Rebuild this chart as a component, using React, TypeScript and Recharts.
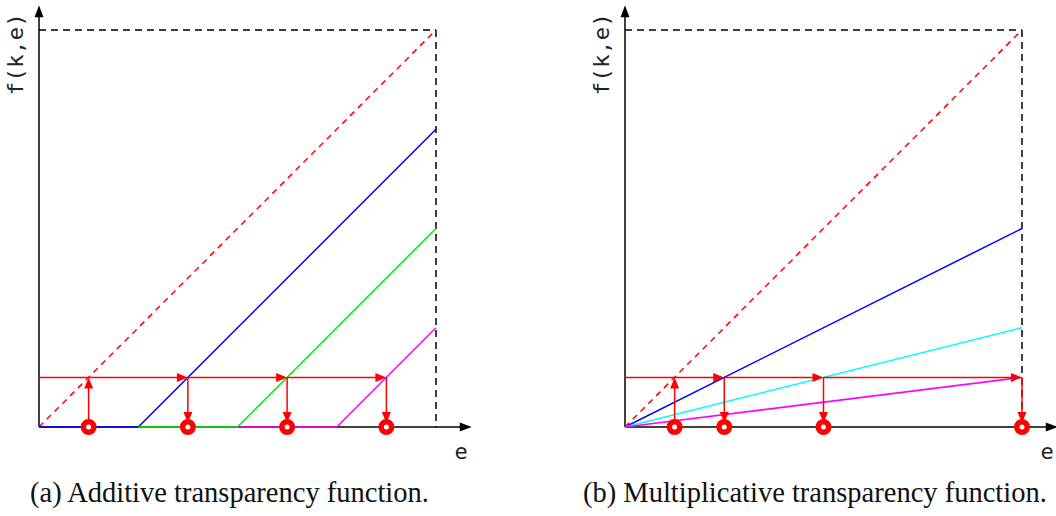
import React from "react"
import { ComposedChart, Line, XAxis, YAxis, ReferenceLine, ReferenceDot } from "recharts"

// additive transparency: f(k,e) = max(0, e - k)
const addE = [0, 1, 2, 3, 4]
const addIdentity = [0, 1, 2, 3, 4]
const addK1 = [0, 0, 1, 2, 3]
const addK2 = [null, 0, 0, 1, 2]
const addK3 = [null, null, 0, 0, 1]
const addHits = [0.5, 1.5, 2.5, 3.5]

// multiplicative transparency: f(k,e) = e / k
const mulE = [0, 4]
const mulIdentity = [0, 4]
const mulK1 = [0, 2]
const mulK2 = [0, 1]
const mulK3 = [0, 0.5]
const mulHits = [0.5, 1, 2, 4]

const level = 0.5
const eMax = 4
const xLabel = "e"
const yLabel = "f(k,e)"
const captionA = "(a) Additive transparency function."
const captionB = "(b) Multiplicative transparency function."

const UNIT = 99.25
const X_END = 4.36
const Y_END = 4.25
const ORIGIN_Y = 427
const CHART_W = 540
const CHART_H = 516
const RED = "#ff0000"

function ArrowLine(props: any) {
    const { x1, y1, x2, y2, color, width = 1.5, head = 0, half = 4, trim = 0, dash } = props
    const dx = x2 - x1
    const dy = y2 - y1
    const len = Math.hypot(dx, dy) || 1
    const ux = dx / len
    const uy = dy / len
    const tx = x2 - ux * trim
    const ty = y2 - uy * trim
    const bx = tx - ux * head
    const by = ty - uy * head
    return (
        <g>
            <line x1={x1} y1={y1} x2={head ? bx + ux : tx} y2={head ? by + uy : ty}
                stroke={color} strokeWidth={width} strokeDasharray={dash} />
            {head > 0 && (
                <polygon
                    points={`${tx},${ty} ${bx - uy * half},${by + ux * half} ${bx + uy * half},${by - ux * half}`}
                    fill={color}
                />
            )}
        </g>
    )
}

interface Series {
    key: string
    color: string
    values: (number | null)[]
}

interface PanelProps {
    es: number[]
    identity: number[]
    series: Series[]
    hits: number[]
    left: number
}

function Panel(props: PanelProps) {
    const { es, identity, series, hits, left } = props
    const rows = es.map((e, i) => {
        const row: any = { e, identity: identity[i] }
        series.forEach(s => { row[s.key] = s.values[i] })
        return row
    })
    const plotW = X_END * UNIT
    const plotH = Y_END * UNIT
    const margin = {
        left: 39,
        top: ORIGIN_Y - plotH,
        right: CHART_W - 39 - plotW,
        bottom: CHART_H - ORIGIN_Y,
    }
    const monoStyle: React.CSSProperties = {
        position: "absolute", fontFamily: "'DejaVu Sans Mono', monospace", fontSize: 22,
        color: "#222", whiteSpace: "nowrap", lineHeight: 1,
    }
    return (
        <div style={{ position: "absolute", left, top: 0 }}>
            <ComposedChart width={CHART_W} height={CHART_H} data={rows} margin={margin}>
                <XAxis dataKey="e" type="number" domain={[0, X_END]} hide />
                <YAxis type="number" domain={[0, Y_END]} hide />

                {/* axes */}
                <ReferenceLine segment={[{ x: 0, y: 0 }, { x: X_END, y: 0 }]} ifOverflow="visible"
                    shape={(p: any) => <ArrowLine {...p} color="#000" head={12} half={4.5} />} />
                <ReferenceLine segment={[{ x: 0, y: 0 }, { x: 0, y: Y_END }]} ifOverflow="visible"
                    shape={(p: any) => <ArrowLine {...p} color="#000" head={12} half={4.5} />} />

                {/* dashed bounding box */}
                <ReferenceLine segment={[{ x: 0, y: eMax }, { x: eMax, y: eMax }]} ifOverflow="visible"
                    shape={(p: any) => <ArrowLine {...p} color="#000" dash="7 5" />} />
                <ReferenceLine segment={[{ x: eMax, y: eMax }, { x: eMax, y: 0 }]} ifOverflow="visible"
                    shape={(p: any) => <ArrowLine {...p} color="#000" dash="7 5" />} />

                <Line dataKey="identity" type="linear" stroke={RED} strokeWidth={1.5} strokeDasharray="6 5"
                    dot={false} isAnimationActive={false} />
                {series.map(s => (
                    <Line key={s.key} dataKey={s.key} type="linear" stroke={s.color} strokeWidth={1.5}
                        dot={false} isAnimationActive={false} />
                ))}

                {/* threshold line with arrows to each crossing */}
                <ReferenceLine segment={[{ x: 0, y: level }, { x: hits[0], y: level }]} ifOverflow="visible"
                    shape={(p: any) => <ArrowLine {...p} color={RED} />} />
                {hits.slice(1).map((h, i) => (
                    <ReferenceLine key={`h${h}`} segment={[{ x: hits[i], y: level }, { x: h, y: level }]}
                        ifOverflow="visible"
                        shape={(p: any) => <ArrowLine {...p} color={RED} head={11} half={4.5} />} />
                ))}
                <ReferenceLine segment={[{ x: hits[0], y: 0 }, { x: hits[0], y: level }]} ifOverflow="visible"
                    shape={(p: any) => <ArrowLine {...p} color={RED} head={11} half={4.5} />} />

                {hits.map(h => (
                    <ReferenceDot key={`d${h}`} x={h} y={0} r={5.25} fill="#fff" stroke={RED}
                        strokeWidth={5.5} ifOverflow="visible" />
                ))}

                {hits.slice(1).map(h => (
                    <ReferenceLine key={`v${h}`} segment={[{ x: h, y: level }, { x: h, y: 0 }]}
                        ifOverflow="visible"
                        shape={(p: any) => <ArrowLine {...p} color={RED} head={11} half={4.5} trim={4} />} />
                ))}
            </ComposedChart>
            <div style={{ ...monoStyle, left: 461, top: 452, transform: "translate(-50%, -50%)" }}>{xLabel}</div>
            <div style={{
                ...monoStyle, left: 16, top: 54, letterSpacing: 0.5,
                transform: "translate(-50%, -50%) rotate(-90deg)",
            }}>{yLabel}</div>
        </div>
    )
}

export default function App() {
    const captionStyle: React.CSSProperties = {
        position: "absolute", top: 477, fontFamily: "'Liberation Serif', serif", fontSize: 28.5,
        color: "#111", whiteSpace: "nowrap",
    }
    return (
        <div style={{
            position: "absolute", left: 0, top: 0, width: 1056, height: 516, overflow: "hidden",
            background: "#fff",
        }}>
            <Panel es={addE} identity={addIdentity} left={0} hits={addHits} series={[
                { key: "k1", color: "#0000ff", values: addK1 },
                { key: "k2", color: "#00ee00", values: addK2 },
                { key: "k3", color: "#ff00ff", values: addK3 },
            ]} />
            <Panel es={mulE} identity={mulIdentity} left={586} hits={mulHits} series={[
                { key: "k1", color: "#0000ff", values: mulK1 },
                { key: "k2", color: "#00ffff", values: mulK2 },
                { key: "k3", color: "#ff00ff", values: mulK3 },
            ]} />
            <div style={{ ...captionStyle, left: 30 }}>{captionA}</div>
            <div style={{ ...captionStyle, left: 583 }}>{captionB}</div>
        </div>
    )
}
